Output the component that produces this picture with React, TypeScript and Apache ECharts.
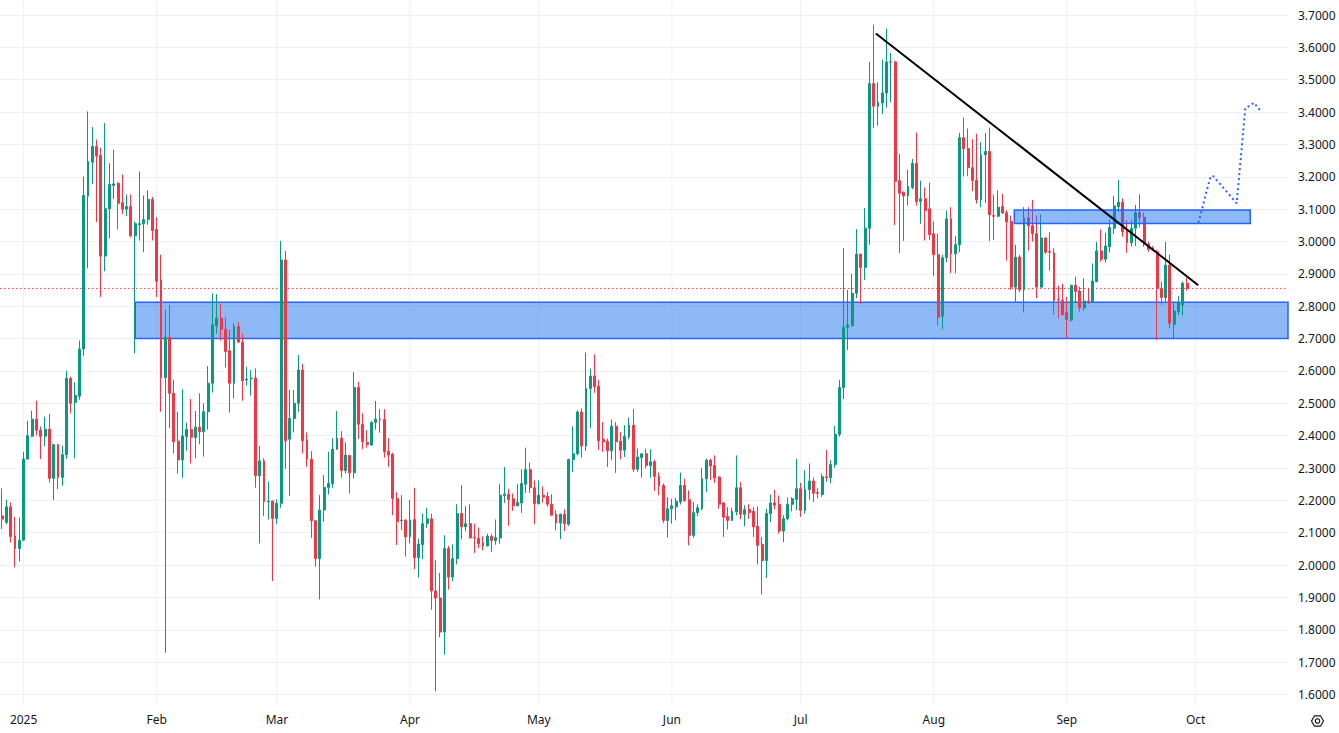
import React, { useEffect, useRef } from "react";
import * as echarts from "echarts";

// ---- Daily candles, each row is [open, high, low, close] ----
const dec2024 = [
  [2.152, 2.237, 2.111, 2.142],
  [2.132, 2.202, 2.127, 2.18],
  [2.18, 2.194, 2.07, 2.088],
  [2.09, 2.149, 1.993, 2.051],
  [2.051, 2.147, 2.011, 2.077],
];

const jan2025 = [
  [2.077, 2.35, 2.075, 2.328],
  [2.328, 2.446, 2.325, 2.4],
  [2.398, 2.477, 2.395, 2.451],
  [2.451, 2.508, 2.4, 2.417],
  [2.417, 2.428, 2.328, 2.398],
  [2.398, 2.459, 2.367, 2.42],
  [2.42, 2.467, 2.255, 2.268],
  [2.268, 2.374, 2.201, 2.372],
  [2.372, 2.374, 2.235, 2.271],
  [2.271, 2.369, 2.245, 2.341],
  [2.341, 2.601, 2.328, 2.577],
  [2.577, 2.582, 2.469, 2.5],
  [2.503, 2.565, 2.33, 2.524],
  [2.522, 2.694, 2.511, 2.668],
  [2.668, 3.201, 2.647, 3.142],
  [3.14, 3.402, 2.917, 3.247],
  [3.245, 3.354, 3.178, 3.294],
  [3.294, 3.315, 3.06, 3.264],
  [3.266, 3.29, 2.828, 2.955],
  [2.955, 3.366, 2.908, 3.101],
  [3.101, 3.242, 3.01, 3.176],
  [3.173, 3.284, 3.132, 3.178],
  [3.18, 3.183, 3.037, 3.118],
  [3.12, 3.207, 3.085, 3.1],
  [3.1, 3.145, 3.078, 3.108],
  [3.108, 3.145, 3.013, 3.018],
  [3.018, 3.062, 2.654, 3.055],
  [3.052, 3.216, 3.003, 3.055],
  [3.055, 3.142, 2.967, 3.068],
  [3.068, 3.158, 3.052, 3.13],
  [3.13, 3.137, 3.003, 3.034],
];

const feb2025 = [
  [3.037, 3.075, 2.828, 2.877],
  [2.881, 2.959, 2.474, 2.579],
  [2.579, 2.789, 1.729, 2.704],
  [2.704, 2.804, 2.423, 2.531],
  [2.531, 2.572, 2.345, 2.381],
  [2.383, 2.474, 2.283, 2.325],
  [2.325, 2.543, 2.27, 2.399],
  [2.397, 2.44, 2.353, 2.419],
  [2.419, 2.513, 2.314, 2.395],
  [2.394, 2.476, 2.33, 2.426],
  [2.426, 2.531, 2.373, 2.412],
  [2.412, 2.5, 2.335, 2.474],
  [2.474, 2.615, 2.419, 2.562],
  [2.562, 2.84, 2.533, 2.742],
  [2.74, 2.837, 2.716, 2.763],
  [2.763, 2.807, 2.694, 2.729],
  [2.729, 2.766, 2.611, 2.66],
  [2.662, 2.727, 2.471, 2.562],
  [2.562, 2.747, 2.515, 2.737],
  [2.737, 2.75, 2.688, 2.689],
  [2.689, 2.716, 2.508, 2.57],
  [2.572, 2.613, 2.555, 2.575],
  [2.576, 2.603, 2.524, 2.578],
  [2.578, 2.608, 2.239, 2.276],
  [2.276, 2.368, 2.067, 2.322],
  [2.322, 2.33, 2.152, 2.196],
  [2.196, 2.258, 2.141, 2.198],
  [2.198, 2.199, 1.951, 2.144],
];

const mar2025 = [
  [2.144, 2.203, 2.126, 2.191],
  [2.191, 3.002, 2.177, 2.943],
  [2.943, 2.971, 2.297, 2.384],
  [2.389, 2.541, 2.214, 2.453],
  [2.453, 2.541, 2.41, 2.5],
  [2.5, 2.649, 2.474, 2.603],
  [2.603, 2.622, 2.345, 2.384],
  [2.386, 2.41, 2.304, 2.327],
  [2.327, 2.352, 2.084, 2.137],
  [2.137, 2.139, 1.995, 2.02],
  [2.02, 2.216, 1.894, 2.17],
  [2.17, 2.278, 2.134, 2.24],
  [2.24, 2.35, 2.218, 2.252],
  [2.252, 2.392, 2.239, 2.358],
  [2.358, 2.476, 2.356, 2.392],
  [2.392, 2.414, 2.27, 2.292],
  [2.292, 2.379, 2.283, 2.34],
  [2.339, 2.34, 2.221, 2.285],
  [2.285, 2.596, 2.268, 2.549],
  [2.549, 2.566, 2.39, 2.435],
  [2.435, 2.469, 2.358, 2.381],
  [2.379, 2.417, 2.363, 2.373],
  [2.371, 2.445, 2.369, 2.441],
  [2.441, 2.507, 2.419, 2.451],
  [2.451, 2.482, 2.409, 2.449],
  [2.45, 2.482, 2.332, 2.35],
  [2.352, 2.392, 2.304, 2.34],
  [2.343, 2.347, 2.154, 2.206],
  [2.206, 2.225, 2.062, 2.134],
  [2.137, 2.216, 2.108, 2.139],
  [2.139, 2.142, 2.026, 2.087],
];

const apr2025 = [
  [2.087, 2.201, 2.067, 2.139],
  [2.141, 2.239, 1.987, 2.023],
  [2.023, 2.082, 1.961, 2.065],
  [2.063, 2.159, 2.019, 2.128],
  [2.128, 2.177, 2.115, 2.143],
  [2.143, 2.159, 1.862, 1.92],
  [1.92, 2.015, 1.61, 1.898],
  [1.898, 1.976, 1.777, 1.793],
  [1.793, 2.092, 1.723, 2.051],
  [2.051, 2.059, 1.924, 1.963],
  [1.963, 2.064, 1.95, 2.02],
  [2.02, 2.188, 2.002, 2.159],
  [2.159, 2.247, 2.08, 2.118],
  [2.118, 2.182, 2.105, 2.128],
  [2.128, 2.188, 2.082, 2.084],
  [2.086, 2.128, 2.037, 2.084],
  [2.082, 2.116, 2.053, 2.066],
  [2.068, 2.089, 2.045, 2.059],
  [2.059, 2.097, 2.058, 2.089],
  [2.089, 2.095, 2.04, 2.076],
  [2.076, 2.141, 2.063, 2.085],
  [2.084, 2.25, 2.066, 2.216],
  [2.214, 2.303, 2.192, 2.219],
  [2.219, 2.236, 2.121, 2.203],
  [2.205, 2.221, 2.167, 2.183],
  [2.183, 2.25, 2.182, 2.193],
  [2.192, 2.296, 2.161, 2.252],
  [2.25, 2.363, 2.223, 2.295],
  [2.295, 2.317, 2.223, 2.239],
  [2.239, 2.262, 2.126, 2.19],
];

const may2025 = [
  [2.19, 2.262, 2.187, 2.216],
  [2.216, 2.243, 2.193, 2.21],
  [2.212, 2.226, 2.18, 2.188],
  [2.188, 2.219, 2.154, 2.154],
  [2.157, 2.169, 2.107, 2.13],
  [2.13, 2.159, 2.08, 2.157],
  [2.157, 2.172, 2.105, 2.128],
  [2.126, 2.329, 2.121, 2.326],
  [2.326, 2.429, 2.288, 2.344],
  [2.344, 2.479, 2.339, 2.473],
  [2.473, 2.484, 2.332, 2.368],
  [2.368, 2.657, 2.353, 2.546],
  [2.546, 2.607, 2.424, 2.584],
  [2.584, 2.651, 2.532, 2.551],
  [2.553, 2.573, 2.355, 2.384],
  [2.389, 2.442, 2.35, 2.381],
  [2.383, 2.391, 2.303, 2.353],
  [2.353, 2.45, 2.324, 2.429],
  [2.429, 2.442, 2.285, 2.381],
  [2.383, 2.411, 2.327, 2.355],
  [2.355, 2.432, 2.334, 2.398],
  [2.396, 2.456, 2.389, 2.432],
  [2.432, 2.482, 2.288, 2.296],
  [2.296, 2.36, 2.288, 2.334],
  [2.332, 2.344, 2.27, 2.344],
  [2.344, 2.36, 2.298, 2.308],
  [2.308, 2.358, 2.27, 2.319],
  [2.319, 2.326, 2.229, 2.274],
  [2.274, 2.286, 2.216, 2.244],
  [2.246, 2.252, 2.13, 2.138],
  [2.138, 2.21, 2.085, 2.174],
];

const jun2025 = [
  [2.174, 2.205, 2.128, 2.183],
  [2.18, 2.207, 2.138, 2.197],
  [2.195, 2.286, 2.187, 2.246],
  [2.246, 2.267, 2.195, 2.2],
  [2.202, 2.231, 2.061, 2.092],
  [2.092, 2.195, 2.084, 2.162],
  [2.162, 2.188, 2.151, 2.177],
  [2.174, 2.3, 2.169, 2.267],
  [2.267, 2.329, 2.226, 2.324],
  [2.324, 2.329, 2.262, 2.306],
  [2.308, 2.339, 2.254, 2.269],
  [2.272, 2.274, 2.174, 2.188],
  [2.192, 2.195, 2.087, 2.148],
  [2.15, 2.179, 2.11, 2.138],
  [2.138, 2.177, 2.136, 2.166],
  [2.164, 2.339, 2.154, 2.239],
  [2.239, 2.257, 2.141, 2.157],
  [2.157, 2.185, 2.12, 2.171],
  [2.172, 2.188, 2.143, 2.162],
  [2.166, 2.179, 2.087, 2.118],
  [2.12, 2.181, 2.002, 2.061],
  [2.064, 2.087, 1.909, 2.014],
  [2.014, 2.174, 1.96, 2.159],
  [2.159, 2.218, 2.133, 2.192],
  [2.192, 2.233, 2.172, 2.185],
  [2.187, 2.215, 2.097, 2.105],
  [2.105, 2.154, 2.071, 2.143],
  [2.143, 2.208, 2.138, 2.188],
  [2.188, 2.21, 2.166, 2.205],
  [2.203, 2.329, 2.169, 2.236],
];

const jul2025 = [
  [2.236, 2.254, 2.149, 2.169],
  [2.169, 2.293, 2.159, 2.233],
  [2.233, 2.314, 2.202, 2.26],
  [2.26, 2.271, 2.195, 2.222],
  [2.224, 2.237, 2.206, 2.222],
  [2.218, 2.283, 2.211, 2.273],
  [2.273, 2.356, 2.258, 2.27],
  [2.27, 2.325, 2.252, 2.311],
  [2.311, 2.43, 2.301, 2.404],
  [2.404, 2.572, 2.397, 2.549],
  [2.549, 2.979, 2.513, 2.735],
  [2.735, 2.85, 2.665, 2.742],
  [2.74, 2.9, 2.737, 2.84],
  [2.84, 3.038, 2.825, 2.961],
  [2.961, 2.961, 2.807, 2.92],
  [2.92, 3.103, 2.881, 3.041],
  [3.041, 3.555, 2.99, 3.488],
  [3.488, 3.67, 3.351, 3.418],
  [3.418, 3.492, 3.358, 3.43],
  [3.428, 3.562, 3.394, 3.459],
  [3.459, 3.658, 3.414, 3.555],
  [3.554, 3.583, 3.43, 3.555],
  [3.555, 3.559, 3.051, 3.186],
  [3.188, 3.27, 2.964, 3.149],
  [3.152, 3.155, 3.002, 3.141],
  [3.141, 3.222, 3.111, 3.17],
  [3.167, 3.255, 3.162, 3.242],
  [3.242, 3.337, 3.111, 3.124],
  [3.124, 3.188, 3.055, 3.132],
  [3.132, 3.167, 3.003, 3.096],
  [3.101, 3.182, 3.005, 3.021],
];

const aug2025 = [
  [3.024, 3.062, 2.893, 2.959],
  [2.959, 3.024, 2.74, 2.766],
  [2.769, 2.959, 2.728, 2.95],
  [2.95, 3.096, 2.936, 3.07],
  [3.07, 3.106, 2.902, 2.962],
  [2.962, 3.017, 2.902, 2.99],
  [2.99, 3.336, 2.967, 3.321],
  [3.321, 3.383, 3.201, 3.287],
  [3.287, 3.349, 3.202, 3.228],
  [3.228, 3.316, 3.156, 3.189],
  [3.189, 3.333, 3.117, 3.129],
  [3.129, 3.307, 3.106, 3.268],
  [3.268, 3.335, 3.119, 3.278],
  [3.278, 3.352, 3.001, 3.083],
  [3.08, 3.145, 3.005, 3.078],
  [3.078, 3.158, 3.075, 3.106],
  [3.108, 3.147, 3.086, 3.088],
  [3.089, 3.096, 2.941, 3.06],
  [3.062, 3.08, 2.851, 2.859],
  [2.859, 2.99, 2.81, 2.952],
  [2.952, 2.959, 2.843, 2.851],
  [2.851, 3.106, 2.781, 3.073],
  [3.073, 3.106, 2.972, 3.049],
  [3.049, 3.129, 3.0, 3.024],
  [3.024, 3.08, 2.825, 2.859],
  [2.859, 3.084, 2.858, 3.011],
  [3.011, 3.013, 2.962, 2.967],
  [2.969, 3.029, 2.91, 2.967],
  [2.965, 2.979, 2.774, 2.818],
  [2.821, 2.864, 2.763, 2.819],
  [2.818, 2.869, 2.771, 2.774],
];

const sep2025 = [
  [2.78, 2.829, 2.701, 2.759],
  [2.757, 2.865, 2.752, 2.865],
  [2.865, 2.891, 2.811, 2.845],
  [2.847, 2.86, 2.783, 2.795],
  [2.795, 2.886, 2.786, 2.816],
  [2.816, 2.855, 2.807, 2.813],
  [2.812, 2.932, 2.811, 2.878],
  [2.876, 2.999, 2.874, 2.971],
  [2.971, 3.037, 2.938, 2.945],
  [2.945, 3.027, 2.935, 2.986],
  [2.984, 3.068, 2.966, 3.043],
  [3.041, 3.141, 3.023, 3.11],
  [3.108, 3.19, 3.092, 3.121],
  [3.121, 3.133, 3.015, 3.03],
  [3.032, 3.066, 2.965, 2.996],
  [2.996, 3.066, 2.984, 3.041],
  [3.041, 3.113, 2.986, 3.089],
  [3.089, 3.146, 3.043, 3.074],
  [3.075, 3.089, 2.984, 2.992],
  [2.992, 2.999, 2.968, 2.976],
  [2.979, 2.986, 2.973, 2.976],
  [2.968, 2.974, 2.695, 2.855],
  [2.855, 2.876, 2.804, 2.827],
  [2.827, 2.999, 2.814, 2.927],
  [2.927, 2.96, 2.731, 2.747],
  [2.744, 2.811, 2.701, 2.785],
  [2.783, 2.831, 2.773, 2.809],
  [2.804, 2.876, 2.771, 2.871],
  [2.871, 2.888, 2.848, 2.855],
];

// ---- Axis / annotation values (x in days from 2025-01-01) ----
const FIRST_DAY = -5; // 2024-12-27
const LAST_DAY = 294; // right end of the time axis
const MONTHS = ["Jan", "Feb", "Mar", "Apr", "May", "Jun", "Jul", "Aug", "Sep", "Oct", "Nov", "Dec"];
const yTicks = { min: 1.6, max: 3.7, step: 0.1 };
const lastPrice = 2.855;
// zones: [xStart, yTop, xEnd, yBottom]
const supportZone = [26, 2.812, 294.5, 2.7];
const resistanceZone = [230.75, 3.097, 285.7, 3.056];
const trendLine = [
  [198.5, 3.643],
  [273.6, 2.865],
];
const forecastPath = [
  [273.6, 3.058],
  [274.5, 3.1],
  [275.4, 3.149],
  [276.5, 3.202],
  [277.1, 3.202],
  [282.55, 3.118],
  [284.56, 3.413],
  [285.57, 3.419],
  [286.58, 3.429],
  [288.37, 3.399],
];

const allCandles = [
  ...dec2024,
  ...jan2025,
  ...feb2025,
  ...mar2025,
  ...apr2025,
  ...may2025,
  ...jun2025,
  ...jul2025,
  ...aug2025,
  ...sep2025,
];

const categories: string[] = [];
for (let d = FIRST_DAY; d <= LAST_DAY; d++) {
  const t = new Date(Date.UTC(2025, 0, 1) + d * 86400000);
  categories.push(t.toISOString().slice(0, 10));
}
const monthStartIdx = categories
  .map((c, i) => (c.endsWith("-01") ? i : -1))
  .filter((i) => i >= 0);

const UP = "#089981";
const DOWN = "#F23645";
const GRID = "#f0f0f0";
const TEXT = "#131722";
const FONT = "'Noto Sans', Roboto, sans-serif";

export default function App() {
  const ref = useRef<HTMLDivElement>(null);

  useEffect(() => {
    if (!ref.current) return;
    const chart = echarts.init(ref.current, null, { renderer: "svg" });

    const zoneRender = (fill: string, stroke: string) => (params: any, api: any) => {
      const p1 = api.coord([api.value(0), api.value(1)]);
      const p2 = api.coord([api.value(2), api.value(3)]);
      return {
        type: "rect",
        shape: {
          x: Math.min(p1[0], p2[0]),
          y: Math.min(p1[1], p2[1]),
          width: Math.abs(p2[0] - p1[0]),
          height: Math.abs(p2[1] - p1[1]),
        },
        style: { fill, stroke, lineWidth: 1.5 },
      };
    };

    const cx = 1317.5;
    const cy = 721;
    const r = 6;
    const hex: number[][] = [];
    for (let k = 0; k < 6; k++) {
      const a = (Math.PI / 3) * k;
      hex.push([cx + r * Math.cos(a), cy + r * Math.sin(a)]);
    }

    chart.setOption({
      animation: false,
      backgroundColor: "#ffffff",
      textStyle: { fontFamily: FONT },
      grid: { left: 0, right: 51, top: 15, bottom: 38.5, containLabel: false },
      xAxis: [
        {
          type: "category",
          data: categories,
          boundaryGap: true,
          axisLine: { show: false },
          axisTick: { show: false },
          splitLine: { show: false },
          axisLabel: {
            interval: (_i: number, v: string) => v.endsWith("-01"),
            formatter: (v: string) => {
              const m = +v.slice(5, 7);
              return m === 1 ? v.slice(0, 4) : MONTHS[m - 1];
            },
            color: TEXT,
            fontSize: 12,
            fontFamily: FONT,
            margin: 19,
          },
        },
        {
          type: "value",
          min: FIRST_DAY - 0.5,
          max: LAST_DAY + 0.5,
          show: false,
          splitLine: { show: false },
        },
      ],
      yAxis: {
        type: "value",
        position: "right",
        min: yTicks.min,
        max: yTicks.max,
        interval: yTicks.step,
        axisLine: { show: false },
        axisTick: { show: false },
        splitLine: { show: true, lineStyle: { color: GRID, width: 1 } },
        axisLabel: {
          formatter: (v: number) => v.toFixed(4),
          color: TEXT,
          fontSize: 12,
          fontFamily: FONT,
          margin: 10,
        },
      },
      series: [
        {
          type: "custom",
          name: "monthGrid",
          xAxisIndex: 0,
          silent: true,
          z: 0,
          data: monthStartIdx.map((i) => [i, 2]),
          encode: { x: 0, y: 1 },
          renderItem: (params: any, api: any) => {
            const x = api.coord([api.value(0), 2])[0];
            return {
              type: "line",
              shape: { x1: x, y1: 0, x2: x, y2: 705 },
              style: { stroke: GRID, lineWidth: 1 },
            };
          },
        },
        {
          type: "custom",
          name: "support",
          xAxisIndex: 1,
          silent: true,
          z: 1,
          data: [supportZone],
          encode: { x: [0, 2], y: [1, 3] },
          renderItem: zoneRender("rgba(30,115,240,0.5)", "#2962ff"),
        },
        {
          type: "line",
          name: "price",
          xAxisIndex: 1,
          silent: true,
          z: 1,
          symbol: "none",
          data: [
            [FIRST_DAY - 0.5, lastPrice],
            [LAST_DAY + 0.5, lastPrice],
          ],
          lineStyle: { color: DOWN, width: 1, type: [1.5, 2.5] },
        },
        {
          type: "candlestick",
          name: "XRP",
          xAxisIndex: 0,
          z: 2,
          barWidth: 2.4,
          data: allCandles.map(([o, h, l, c]) => [o, c, l, h]),
          itemStyle: {
            color: UP,
            color0: DOWN,
            borderColor: UP,
            borderColor0: DOWN,
            borderWidth: 1,
          },
        },
        {
          type: "custom",
          name: "resistance",
          xAxisIndex: 1,
          silent: true,
          z: 3,
          data: [resistanceZone],
          encode: { x: [0, 2], y: [1, 3] },
          renderItem: zoneRender("rgba(30,115,240,0.5)", "#2962ff"),
        },
        {
          type: "line",
          name: "trend",
          xAxisIndex: 1,
          silent: true,
          z: 4,
          symbol: "none",
          data: trendLine,
          lineStyle: { color: "#000000", width: 2 },
        },
        {
          type: "line",
          name: "forecast",
          xAxisIndex: 1,
          silent: true,
          z: 4,
          symbol: "none",
          data: forecastPath,
          lineStyle: { color: "#2962ff", width: 2, type: [2, 3] },
        },
      ],
      graphic: [
        {
          type: "polygon",
          shape: { points: hex },
          style: { fill: "none", stroke: TEXT, lineWidth: 1.2 },
          silent: true,
        },
        {
          type: "circle",
          shape: { cx, cy, r: 2.2 },
          style: { fill: "none", stroke: TEXT, lineWidth: 1.2 },
          silent: true,
        },
      ],
    });

    return () => chart.dispose();
  }, []);

  return (
    <div
      ref={ref}
      style={{ position: "fixed", left: 0, top: 0, width: 1339, height: 733, background: "#ffffff" }}
    />
  );
}
